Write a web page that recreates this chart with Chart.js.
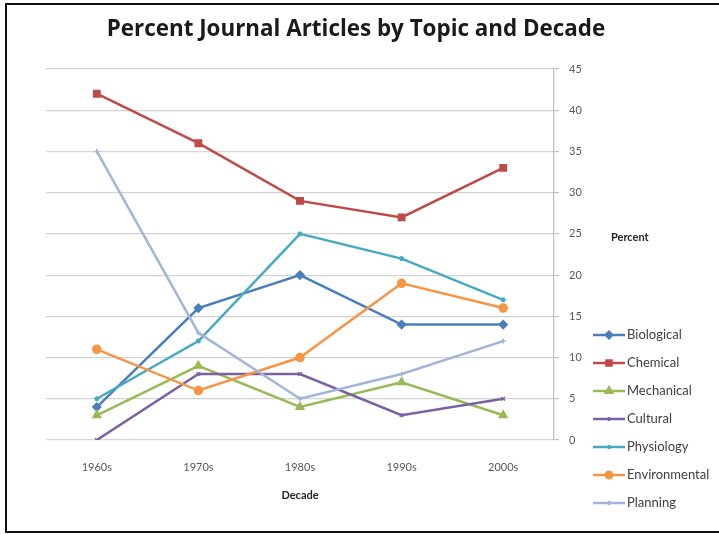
<!DOCTYPE html>
<html>
<head>
<meta charset="utf-8">
<script src="https://cdn.jsdelivr.net/npm/chart.js@4"></script>
<style>
  body { margin: 0; background: #fff; }
  #wrap { width: 719px; height: 535px; }
</style>
</head>
<body>
<div id="wrap"><canvas id="chart" width="719" height="535"></canvas></div>
<script>
const decades = ['1960s', '1970s', '1980s', '1990s', '2000s'];
const biological = [4, 16, 20, 14, 14];
const chemical = [42, 36, 29, 27, 33];
const mechanical = [3, 9, 4, 7, 3];
const cultural = [0, 8, 8, 3, 5];
const physiology = [5, 12, 25, 22, 17];
const environmental = [11, 6, 10, 19, 16];
const planning = [35, 13, 5, 8, 12];

const FONT = 'Lato, "Open Sans", sans-serif';

const series = [
  { label: 'Biological', data: biological, color: '#4a7ebb', marker: 'rectRot', r: 4 },
  { label: 'Chemical', data: chemical, color: '#be4b48', marker: 'rect', r: 4.5 },
  { label: 'Mechanical', data: mechanical, color: '#98b954', marker: 'triangle', r: 4.5 },
  { label: 'Cultural', data: cultural, color: '#7d60a0', marker: 'crossRot', r: 2.5 },
  { label: 'Physiology', data: physiology, color: '#46aac5', marker: 'star', r: 2.5 },
  { label: 'Environmental', data: environmental, color: '#f69545', marker: 'circle', r: 4 },
  { label: 'Planning', data: planning, color: '#a2b5d8', marker: 'cross', r: 2.5 }
];

// title, axis titles, legend and outer frame
const decor = {
  id: 'decor',
  afterDraw(chart) {
    const ctx = chart.ctx;
    ctx.save();
    ctx.strokeStyle = '#111';
    ctx.lineWidth = 2;
    ctx.strokeRect(6, 4, 730, 528);

    const title = 'Percent Journal Articles by Topic and Decade';
    ctx.fillStyle = '#1a1a1a';
    ctx.font = 'bold 20px "Open Sans", sans-serif';
    const w = ctx.measureText(title).width;
    const size = Math.min(24, 20 * 498 / w);
    ctx.font = 'bold ' + size.toFixed(1) + 'px "Open Sans", sans-serif';
    ctx.textAlign = 'center';
    ctx.textBaseline = 'alphabetic';
    ctx.fillText(title, 356, 36);

    ctx.font = 'bold 11px ' + FONT;
    ctx.fillStyle = '#262626';
    ctx.textBaseline = 'middle';
    ctx.fillText('Decade', 300, 495);
    ctx.textAlign = 'left';
    ctx.fillText('Percent', 611, 237);

    ctx.font = '13px ' + FONT;
    chart.data.datasets.forEach((ds, i) => {
      const y = 335 + i * 28;
      ctx.strokeStyle = ds.borderColor;
      ctx.lineWidth = 2.5;
      ctx.beginPath();
      ctx.moveTo(593, y);
      ctx.lineTo(625, y);
      ctx.stroke();
      ctx.fillStyle = ds.borderColor;
      Chart.helpers.drawPoint(ctx, {
        pointStyle: ds.pointStyle, radius: ds.pointRadius * 0.8,
        borderWidth: 1.5, rotation: 0
      }, 609, y);
      ctx.fillStyle = '#404040';
      ctx.fillText(ds.label, 627, y);
    });
    ctx.restore();
  }
};

new Chart(document.getElementById('chart'), {
  type: 'line',
  data: {
    labels: decades,
    datasets: series.map((s, i) => ({
      label: s.label,
      data: s.data,
      borderColor: s.color,
      backgroundColor: s.color,
      borderWidth: 2.5,
      pointStyle: s.marker,
      pointRadius: s.r,
      pointBorderWidth: 1.5,
      tension: 0,
      order: series.length - i
    }))
  },
  options: {
    responsive: false,
    animation: false,
    layout: { padding: { left: 46, top: 69, right: 0, bottom: 0 } },
    plugins: {
      legend: { display: false },
      title: { display: false },
      tooltip: { enabled: false }
    },
    scales: {
      x: {
        offset: true,
        grid: { display: false, offset: true },
        border: { display: false },
        ticks: { color: '#595959', font: { family: FONT, size: 11 }, padding: 13, maxRotation: 0 },
        afterFit(scale) { scale.height = 95; }
      },
      y: {
        position: 'right',
        min: 0,
        max: 45,
        ticks: { stepSize: 5, color: '#595959', font: { family: FONT, size: 11 }, padding: 10 },
        grid: { color: '#d4d4d4', lineWidth: 1.2, tickLength: 5, tickColor: '#bfbfbf' },
        border: { display: true, color: '#bfbfbf', width: 1.2 },
        afterFit(scale) { scale.width = 165; }
      }
    }
  },
  plugins: [decor]
});
</script>
</body>
</html>
